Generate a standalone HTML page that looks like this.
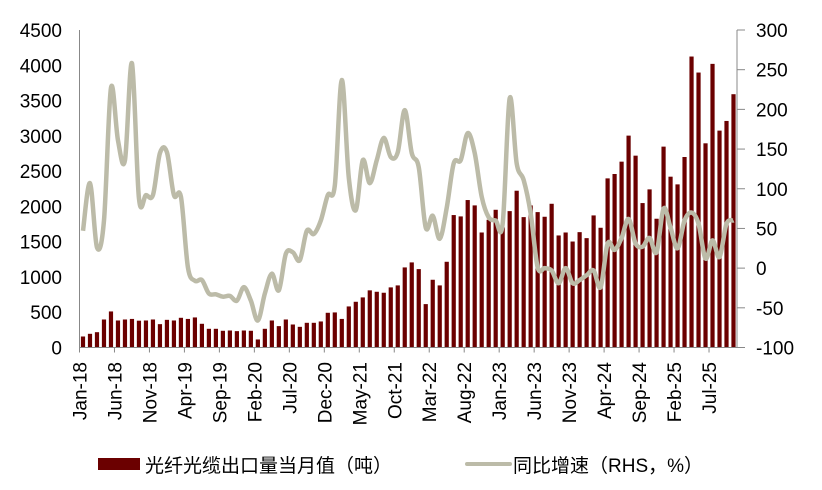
<!DOCTYPE html>
<html><head><meta charset="utf-8"><style>
body{margin:0;background:#fff;}
svg{display:block;font-family:"Liberation Sans","Noto Sans CJK SC",sans-serif;}
</style></head><body>
<svg id="chart" width="822" height="490" viewBox="0 0 822 490">
<g id="bars"></g>
<g id="line"></g>
<g id="axes"></g>
<g>
<rect x="98" y="458" width="42" height="12" fill="#6b0000"/>
<text x="145" y="472" font-size="19" fill="#000">光纤光缆出口量当月值（吨）</text>
<line x1="467" y1="464" x2="510" y2="464" stroke="#bcbba8" stroke-width="4" stroke-linecap="round"/>
<text x="513" y="472" font-size="19" fill="#000">同比增速（RHS，%）</text>
</g>
</svg>
<script>
const startYear = 2018;
const months = ["Jan","Feb","Mar","Apr","May","Jun","Jul","Aug","Sep","Oct","Nov","Dec"];
const exportVolume = [156,194,217,397,511,383,397,405,380,383,397,331,392,383,421,405,426,336,265,265,237,241,232,241,237,114,265,383,303,397,326,293,350,350,369,492,497,405,582,648,710,810,790,776,852,880,1135,1206,1111,615,960,880,1215,1877,1858,2090,2014,1630,1810,1952,1702,1933,2222,1848,2014,1919,1853,2037,1588,1630,1502,1635,1550,1872,1697,2397,2459,2634,3003,2719,2047,2241,1825,2847,2421,2312,2700,4124,3897,2894,4020,3074,3211,3590];
const yoyGrowth = [47,107,26,60,227,161,136,258,88,92,92,145,146,92,90,1,-16,-15,-32,-33,-36,-35,-41,-24,-41,-66,-32,-7,-28,18,20,10,47,43,60,92,104,237,114,73,136,107,136,164,140,146,199,145,127,51,66,37,76,132,136,170,145,90,64,60,56,214,132,111,69,1,0,-3,-19,0,-19,-15,-9,-3,-24,31,23,38,62,31,27,38,20,75,51,25,60,70,56,12,35,14,56,60];
const leftTicks = [0,500,1000,1500,2000,2500,3000,3500,4000,4500];
const rightTicks = [-100,-50,0,50,100,150,200,250,300];

const NS="http://www.w3.org/2000/svg";
const X0=79.5, X1=737, YT=30, YB=347.5;
const n=exportVolume.length, step=(X1-X0)/n;
const xc=i=>X0+(i+0.5)*step;
const yL=v=>YB-(v/4500)*(YB-YT);
const yR=v=>YB-((v+100)/400)*(YB-YT);
function mk(tag,attrs,parent){const e=document.createElementNS(NS,tag);for(const k in attrs)e.setAttribute(k,attrs[k]);parent.appendChild(e);return e;}
const bars=document.getElementById('bars'),line=document.getElementById('line'),axes=document.getElementById('axes');
exportVolume.forEach((v,i)=>{
  const r=mk('rect',{x:xc(i)-2.1,y:yL(v),width:4.2,height:YB-yL(v),fill:'#6b0000'},bars);
  
  
});
const pts=yoyGrowth.map((v,i)=>[xc(i),yR(v)]);
let d='M'+pts[0][0]+','+pts[0][1];
for(let i=0;i<pts.length-1;i++){
  const p0=pts[Math.max(0,i-1)],p1=pts[i],p2=pts[i+1],p3=pts[Math.min(pts.length-1,i+2)];
  const t=1/6;
  d+=' C'+(p1[0]+(p2[0]-p0[0])*t)+','+(p1[1]+(p2[1]-p0[1])*t)+' '+(p2[0]-(p3[0]-p1[0])*t)+','+(p2[1]-(p3[1]-p1[1])*t)+' '+p2[0]+','+p2[1];
}
const lp=mk('path',{d:d,fill:'none',stroke:'#bcbba8','stroke-width':4.5,'stroke-linejoin':'round'},line);


const la=mk('line',{x1:X0,y1:YT,x2:X0,y2:YB,stroke:'#888','stroke-width':1},axes);


const ra=mk('line',{x1:X1,y1:YT,x2:X1,y2:YB,stroke:'#888','stroke-width':1},axes);


const xa=mk('line',{x1:X0,y1:YB,x2:X1,y2:YB,stroke:'#888','stroke-width':1},axes);


leftTicks.forEach(v=>{
  const t=mk('text',{x:62,y:yL(v)+7,'text-anchor':'end','font-size':19,fill:'#000'},axes);t.textContent=v;
  
  
});
rightTicks.forEach(v=>{
  mk('line',{x1:X1,y1:yR(v),x2:X1+8,y2:yR(v),stroke:'#888'},axes);
  const t=mk('text',{x:756,y:yR(v)+7,'font-size':19,fill:'#000'},axes);t.textContent=v;
  
  
});
for(let i=0;i<n;i+=5){
  const x=X0+i*step;
  mk('line',{x1:x,y1:YB,x2:x,y2:YB+5,stroke:'#888'},axes);
  const lab=months[i%12]+'-'+String((startYear+Math.floor(i/12))%100).padStart(2,'0');
  const t=mk('text',{x:0,y:0,'text-anchor':'end','font-size':19,fill:'#000',transform:'translate('+(x+7)+','+362+') rotate(-90)'},axes);
  t.textContent=lab;
  
  
}
</script>
</body></html>
